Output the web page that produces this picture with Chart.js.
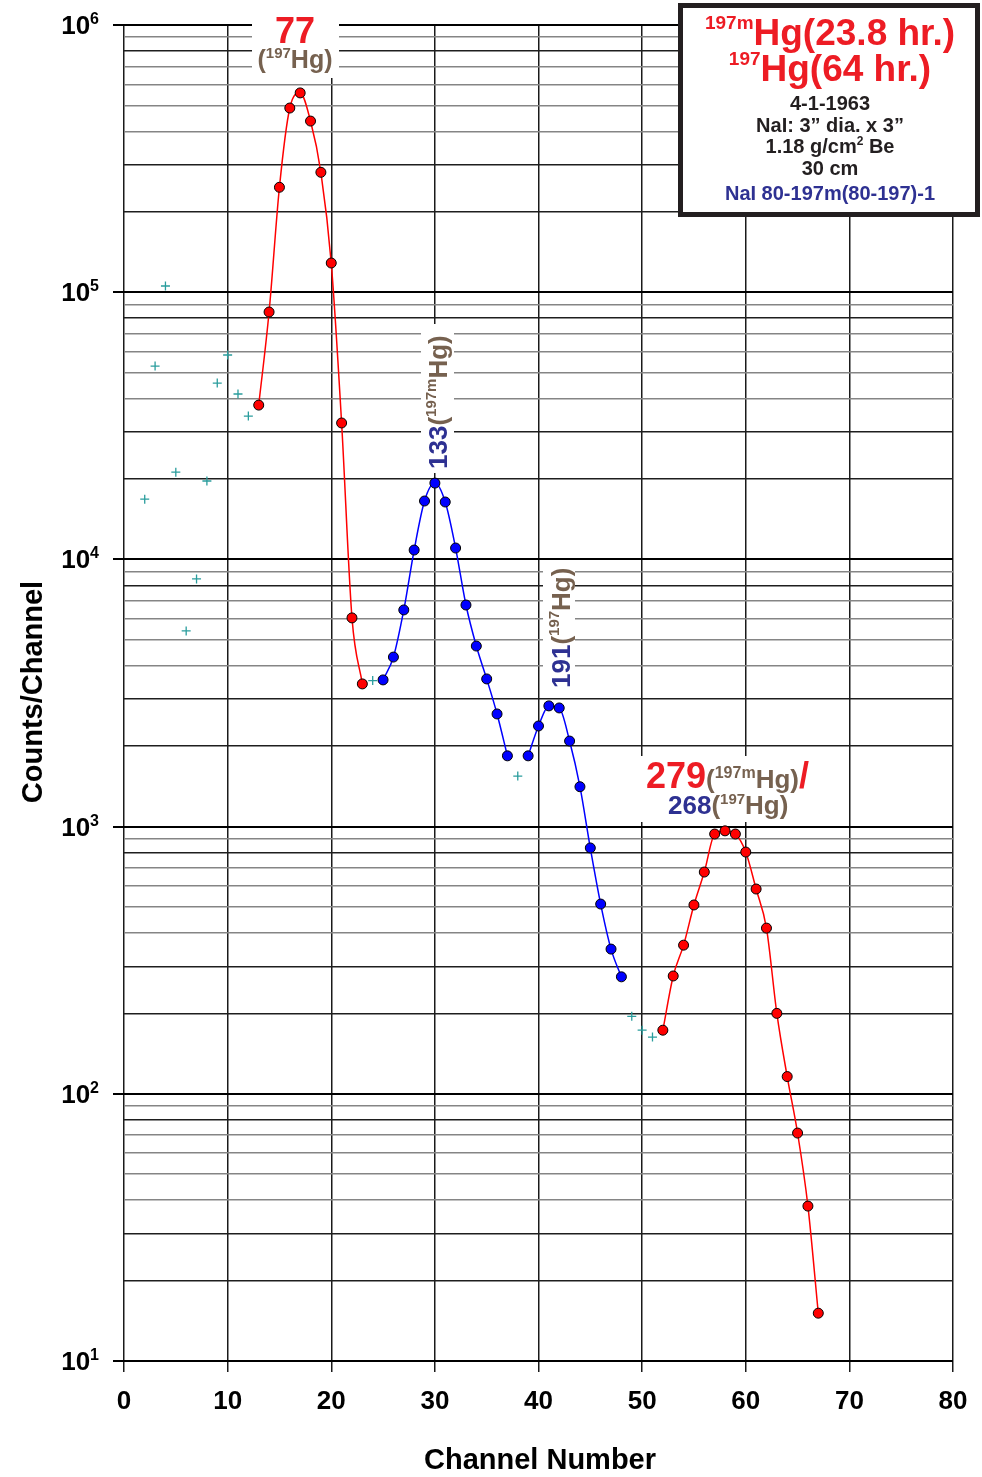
<!DOCTYPE html>
<html>
<head>
<meta charset="utf-8">
<title>197mHg / 197Hg NaI spectrum</title>
<script src="https://cdn.jsdelivr.net/npm/chart.js@4.4.1/dist/chart.umd.min.js"></script>
<style>
  html, body { margin: 0; padding: 0; background: #fff; }
  #spec { display: block; }
</style>
</head>
<body>
<canvas id="spec" width="982" height="1477"></canvas>
<script>
// ---- data ----
const peak1Ch = [13, 14, 15, 16, 17, 18, 19, 20, 21, 22, 23];
const peak1Counts = [37800, 84300, 247000, 489000, 557000, 437000, 281000, 128600, 32400, 6040, 3420];

const blueCh = [25, 26, 27, 28, 29, 30, 31, 32, 33, 34, 35, 36, 37, 38, 39, 40, 41, 42, 43, 44, 45, 46, 47, 48];
const blueCounts = [3540, 4310, 6470, 10840, 16540, 19300, 16400, 11030, 6750, 4740, 3570, 2640, 1840, null,
  1840, 2380, 2830, 2780, 2090, 1410, 832, 513, 348, 274];

const peak2Ch = [52, 53, 54, 55, 56, 57, 58, 59, 60, 61, 62, 63, 64, 65, 66, 67];
const peak2Counts = [173, 276, 360, 509, 676, 938, 964, 938, 803, 584, 417, 200, 116, 71.3, 38.0, 15.1];

const bgCh = [2, 3, 4, 5, 6, 7, 8, 9, 10, 11, 12, 24, 38, 49, 50, 51];
const bgCounts = [16800, 52900, 105500, 21200, 5400, 8450, 19650, 45700, 58200, 41600, 34400, 3520, 1545, 195, 173, 163];

// axis ticks
const xTicks = [0, 10, 20, 30, 40, 50, 60, 70, 80];
const yDecades = [10, 100, 1000, 10000, 100000, 1000000];
const yExponents = [1, 2, 3, 4, 5, 6];
const yMinorSteps = [2, 3, 4, 5, 6, 7, 8, 9];

// ---- helpers ----
const FONT = '"Liberation Sans", Arial, Helvetica, sans-serif';
const RED_TXT = "#ed1c24", BROWN = "#76614f", NAVY = "#2e3192", INK = "#231f20";

function pts(xs, ys) {
  return xs.map((x, i) => ({ x: x, y: ys[i] }));
}
function setFont(ctx, size) {
  ctx.font = "bold " + size + "px " + FONT;
}
function richWidth(ctx, parts) {
  let w = 0;
  parts.forEach(p => { setFont(ctx, p[1]); w += ctx.measureText(p[0]).width; });
  return w;
}
// parts: [text, size, color, rise]
function drawRich(ctx, parts, x, y, align) {
  const w = richWidth(ctx, parts);
  let cx = x;
  if (align === "center") cx = x - w / 2;
  else if (align === "right") cx = x - w;
  ctx.textAlign = "left";
  ctx.textBaseline = "alphabetic";
  parts.forEach(p => {
    setFont(ctx, p[1]);
    ctx.fillStyle = p[2];
    ctx.fillText(p[0], cx, y - (p[3] || 0));
    cx += ctx.measureText(p[0]).width;
  });
}
function mantissa(v) {
  return Math.round(v / Math.pow(10, Math.floor(Math.log10(v) + 1e-9)));
}

// ---- labels, legend box, axis titles ----
const decor = {
  id: "decor",
  beforeDatasetsDraw(chart) {
    const ctx = chart.ctx;
    ctx.save();
    ctx.fillStyle = "#fff";
    // white patches behind the peak labels
    ctx.fillRect(252, 10, 87, 68);
    ctx.fillRect(421, 324, 33, 149);
    ctx.fillRect(543, 561, 32, 131);
    ctx.fillRect(641, 756, 176, 66);

    // 77 keV peak
    drawRich(ctx, [["77", 36, RED_TXT]], 295, 43, "center");
    drawRich(ctx, [["(", 25, BROWN], ["197", 15, BROWN, 10], ["Hg)", 25, BROWN]], 295, 68, "center");

    // vertical labels
    ctx.save();
    ctx.translate(447, 469);
    ctx.rotate(-Math.PI / 2);
    drawRich(ctx, [["133", 26, NAVY], ["(", 26, BROWN], ["197m", 15, BROWN, 11], ["Hg)", 26, BROWN]], 0, 0, "left");
    ctx.restore();
    ctx.save();
    ctx.translate(570, 688);
    ctx.rotate(-Math.PI / 2);
    drawRich(ctx, [["191", 26, NAVY], ["(", 26, BROWN], ["197", 15, BROWN, 11], ["Hg)", 26, BROWN]], 0, 0, "left");
    ctx.restore();

    // 279 / 268
    drawRich(ctx, [["279", 36, RED_TXT], ["(", 26, BROWN], ["197m", 16, BROWN, 10], ["Hg)", 26, BROWN], ["/", 36, RED_TXT]], 646, 788, "left");
    drawRich(ctx, [["268", 26, NAVY], ["(", 26, BROWN], ["197", 15, BROWN, 10], ["Hg)", 26, BROWN]], 668, 814, "left");

    // info box
    ctx.fillStyle = "#fff";
    ctx.fillRect(680, 5, 298, 210);
    ctx.lineWidth = 5;
    ctx.strokeStyle = INK;
    ctx.strokeRect(680.5, 5.5, 297, 209);
    drawRich(ctx, [["197m", 19, RED_TXT, 16], ["Hg(23.8 hr.)", 37, RED_TXT]], 830, 45, "center");
    drawRich(ctx, [["197", 19, RED_TXT, 16], ["Hg(64 hr.)", 37, RED_TXT]], 830, 81, "center");
    drawRich(ctx, [["4-1-1963", 20, INK]], 830, 110, "center");
    drawRich(ctx, [["NaI: 3\u201d dia. x 3\u201d", 20, INK]], 830, 132, "center");
    drawRich(ctx, [["1.18 g/cm", 20, INK], ["2", 12, INK, 8], [" Be", 20, INK]], 830, 153, "center");
    drawRich(ctx, [["30 cm", 20, INK]], 830, 175, "center");
    drawRich(ctx, [["NaI 80-197m(80-197)-1", 20, NAVY]], 830, 200, "center");
    ctx.restore();
  },
  afterDraw(chart) {
    const ctx = chart.ctx;
    const ys = chart.scales.y;
    ctx.save();
    yDecades.forEach((v, i) => {
      const py = ys.getPixelForValue(v);
      drawRich(ctx, [["10", 26, "#000"], [String(yExponents[i]), 16, "#000", 10]], 99, py + 9, "right");
    });
    // axis titles
    setFont(ctx, 29);
    ctx.fillStyle = "#000";
    ctx.textAlign = "center";
    ctx.textBaseline = "alphabetic";
    ctx.fillText("Channel Number", 540, 1469);
    ctx.translate(42, 692);
    ctx.rotate(-Math.PI / 2);
    ctx.fillText("Counts/Channel", 0, 0);
    ctx.restore();
  }
};

const ctx = document.getElementById("spec").getContext("2d");
new Chart(ctx, {
  type: "line",
  data: {
    datasets: [
      {
        data: pts(bgCh, bgCounts), showLine: false,
        pointStyle: "cross", pointRadius: 4.5, pointBorderWidth: 1.3,
        pointBorderColor: "#2a9d9d", pointBackgroundColor: "#2a9d9d"
      },
      {
        data: pts(peak1Ch, peak1Counts), borderColor: "#ff0000", borderWidth: 1.5,
        cubicInterpolationMode: "monotone",
        pointRadius: 5, pointBackgroundColor: "#ff0000", pointBorderColor: "#000", pointBorderWidth: 1
      },
      {
        data: pts(blueCh, blueCounts), borderColor: "#0000ff", borderWidth: 1.5,
        cubicInterpolationMode: "monotone", spanGaps: false,
        pointRadius: 5, pointBackgroundColor: "#0000ff", pointBorderColor: "#000", pointBorderWidth: 1
      },
      {
        data: pts(peak2Ch, peak2Counts), borderColor: "#ff0000", borderWidth: 1.5,
        cubicInterpolationMode: "monotone",
        pointRadius: 5, pointBackgroundColor: "#ff0000", pointBorderColor: "#000", pointBorderWidth: 1
      }
    ]
  },
  options: {
    responsive: false,
    animation: false,
    devicePixelRatio: 1,
    layout: { padding: { left: 124, right: 29, top: 25, bottom: 0 } },
    plugins: { legend: { display: false }, tooltip: { enabled: false } },
    scales: {
      x: {
        type: "linear", min: 0, max: 80,
        afterBuildTicks: s => { s.ticks = xTicks.map(v => ({ value: v })); },
        afterFit: s => { s.height = 116; },
        border: { display: false },
        grid: { color: "#1a1a1a", lineWidth: 1.5, tickLength: 11, tickColor: "#1a1a1a", tickWidth: 1.5 },
        ticks: {
          color: "#000", padding: 14, maxRotation: 0,
          font: { family: FONT, size: 26, weight: "bold" }
        }
      },
      y: {
        type: "logarithmic", min: 10, max: 1000000,
        afterBuildTicks: s => {
          const t = [];
          yDecades.forEach((d, i) => {
            t.push({ value: d });
            if (i < yDecades.length - 1) yMinorSteps.forEach(m => t.push({ value: d * m }));
          });
          s.ticks = t;
        },
        afterFit: s => { s.width = 0; },
        border: { display: false },
        ticks: { display: false },
        grid: {
          tickLength: 11,
          color: c => {
            const m = mantissa(c.tick.value);
            return m === 1 ? "#000" : ([2, 3, 8].includes(m) ? "#1e1e1e" : "#858585");
          },
          lineWidth: c => (mantissa(c.tick.value) === 1 ? 2 : 1.5),
          tickColor: c => (mantissa(c.tick.value) === 1 ? "#000" : "rgba(0,0,0,0)"),
          tickWidth: 2
        }
      }
    }
  },
  plugins: [decor]
});
</script>
</body>
</html>
